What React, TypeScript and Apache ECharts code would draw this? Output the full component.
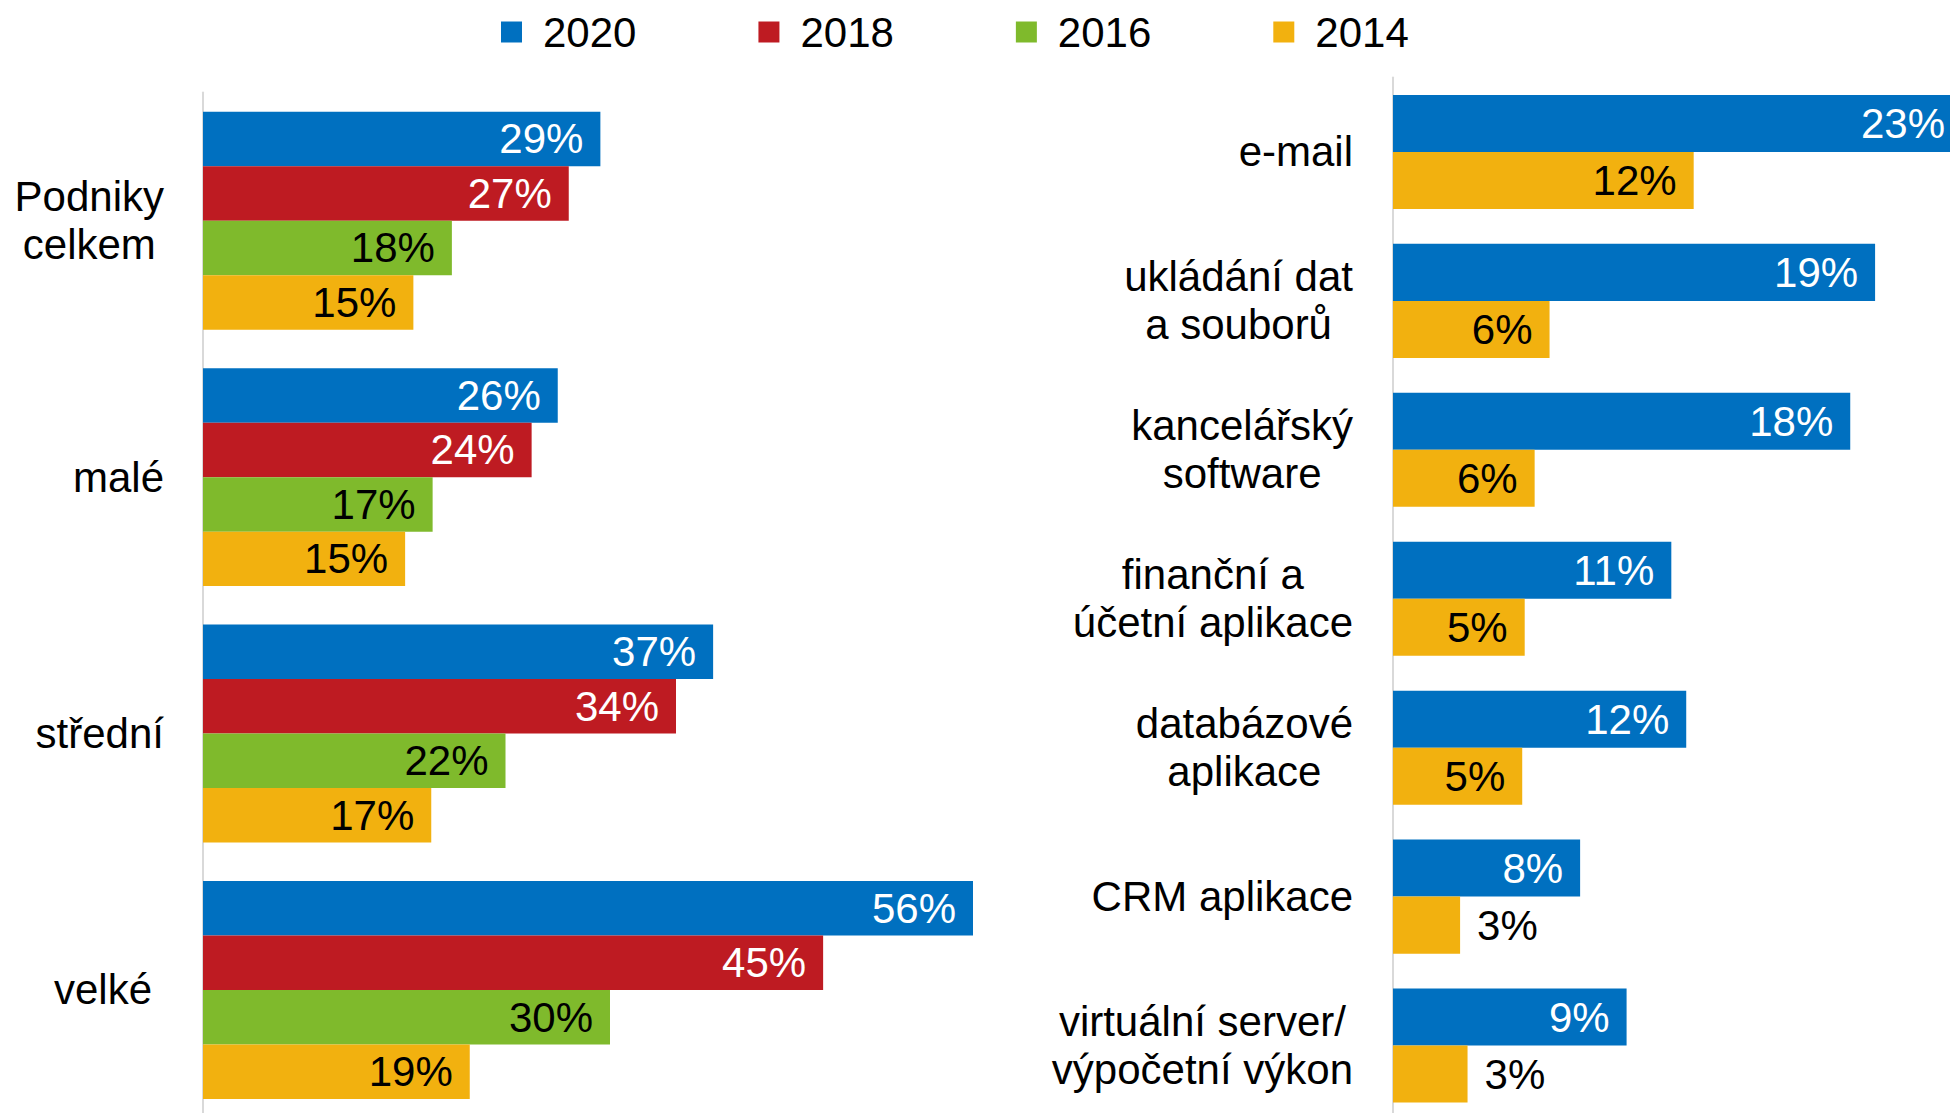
import React, { useEffect, useRef } from "react";
import * as echarts from "echarts";

const FONT = "'Liberation Sans', Arial, sans-serif";

const years = ["2020", "2018", "2016", "2014"];
const colors = ["#0070C0", "#BE1B22", "#7FBA2C", "#F2B10F"];
const labelColors = ["#ffffff", "#ffffff", "#000000", "#000000"];

// Left chart: enterprise size
const sizeCategories = ["Podniky\ncelkem", "malé", "střední", "velké "];
const size2020 = [28.9, 25.8, 37.1, 56.0];
const size2018 = [26.6, 23.9, 34.4, 45.1];
const size2016 = [18.1, 16.7, 22.0, 29.6];
const size2014 = [15.3, 14.7, 16.6, 19.4];

// Right chart: cloud services
const serviceCategories = [
  "e-mail",
  "ukládání dat\na souborů",
  "kancelářský\nsoftware",
  "finanční a\núčetní aplikace",
  "databázové\naplikace",
  "CRM aplikace",
  "virtuální server/\nvýpočetní výkon",
];
const service2020 = [22.9, 19.4, 18.4, 11.2, 11.8, 7.53, 9.4];
const service2014 = [12.1, 6.3, 5.7, 5.3, 5.2, 2.7, 3.0];

const labelFormatter = (p: any) => Math.round(p.value) + "%";

function makeData(values: number[]) {
  return values.map((v) =>
    v < 4 ? { value: v, label: { position: "right", color: "#000000" } } : v
  );
}

function makeSeries(
  name: string,
  values: number[],
  idx: number,
  axisIndex: number,
  gap: string
) {
  return {
    name,
    type: "bar",
    xAxisIndex: axisIndex,
    yAxisIndex: axisIndex,
    data: makeData(values),
    barGap: "0%",
    barCategoryGap: gap,
    itemStyle: { color: colors[idx] },
    label: {
      show: true,
      position: "insideRight",
      distance: 17,
      formatter: labelFormatter,
      color: labelColors[idx],
      fontSize: 42,
      fontFamily: FONT,
    },
  };
}

const richBase = {
  align: "center",
  fontSize: 42,
  lineHeight: 48,
  fontFamily: FONT,
  color: "#000000",
};

const catLabel = {
  margin: 39,
  formatter: (v: string) =>
    v
      .split("\n")
      .map((l) => (/\s$/.test(l) ? `{s|${l.trimEnd()}}` : `{c|${l}}`))
      .join("\n"),
  rich: {
    c: richBase,
    s: { ...richBase, padding: [0, 12, 0, 0] },
  },
};

export default function App() {
  const ref = useRef<HTMLDivElement>(null);
  useEffect(() => {
    if (!ref.current) return;
    const chart = echarts.init(ref.current, undefined, { renderer: "svg" });
    const option: any = {
      animation: false,
      backgroundColor: "#ffffff",
      legend: {
        data: years,
        icon: "rect",
        itemWidth: 21,
        itemHeight: 21,
        itemGap: 122,
        left: 496,
        top: 3,
        textStyle: {
          fontSize: 42,
          lineHeight: 48,
          color: "#000000",
          fontFamily: FONT,
          padding: [0, 0, 0, 16],
        },
      },
      grid: [
        {
          left: 203,
          top: 92.5,
          width: 825,
          height: 1025.7,
          outerBoundsMode: "none",
          containLabel: false,
        },
        {
          left: 1393,
          top: 77.5,
          width: 621.25,
          height: 1042.5,
          outerBoundsMode: "none",
          containLabel: false,
        },
      ],
      xAxis: [
        { type: "value", gridIndex: 0, min: 0, max: 60, show: false },
        { type: "value", gridIndex: 1, min: 0, max: 25, show: false },
      ],
      yAxis: [
        {
          type: "category",
          gridIndex: 0,
          inverse: true,
          data: sizeCategories,
          axisTick: { show: false },
          axisLine: { show: true, lineStyle: { color: "#D9D9D9", width: 2 } },
          axisLabel: catLabel,
        },
        {
          type: "category",
          gridIndex: 1,
          inverse: true,
          data: serviceCategories,
          axisTick: { show: false },
          axisLine: { show: true, lineStyle: { color: "#D9D9D9", width: 2 } },
          axisLabel: { ...catLabel, margin: 40 },
        },
      ],
      series: [
        makeSeries("2020", size2020, 0, 0, "15%"),
        makeSeries("2018", size2018, 1, 0, "15%"),
        makeSeries("2016", size2016, 2, 0, "15%"),
        makeSeries("2014", size2014, 3, 0, "15%"),
        makeSeries("2020", service2020, 0, 1, "23.4%"),
        makeSeries("2014", service2014, 3, 1, "23.4%"),
      ],
    };
    chart.setOption(option);
    return () => chart.dispose();
  }, []);
  return (
    <div
      ref={ref}
      style={{ position: "absolute", left: 0, top: 0, width: 1950, height: 1113 }}
    />
  );
}
